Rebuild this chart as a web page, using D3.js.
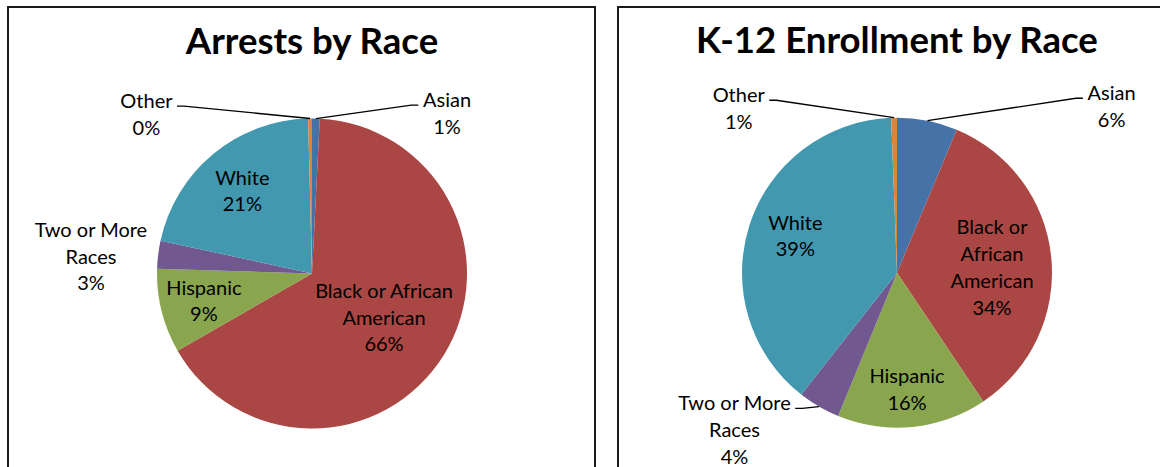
<!DOCTYPE html>
<html><head><meta charset="utf-8">
<script src="https://cdn.jsdelivr.net/npm/d3@7"></script>
<style>
html,body{margin:0;padding:0;background:#fff;}
svg{display:block;}
text{font-family:Lato,"Liberation Sans",sans-serif;fill:#000;}
</style></head><body>
<svg id="chart" width="1160" height="467"></svg>
<script>
// ---- data ----
const categories = ["Asian", "Black or African American", "Hispanic", "Two or More Races", "White", "Other"];
const arrestsValues = [0.8, 65.9, 8.8, 2.9, 21.2, 0.4];
const enrollmentValues = [6.3, 34.3, 15.6, 4.4, 38.8, 0.6];
const chartTitles = ["Arrests by Race", "K-12 Enrollment by Race"];
const sliceColors = ["#4572A7", "#AA4643", "#89A54E", "#71588F", "#4198AF", "#DB843D"];

// ---- layout ----
const labelFont = 20, lineH = 26.7, titleFont = 36.6;
const panels = [
  { title: chartTitles[0], values: arrestsValues, box: [8, 7, 587, 520], cx: 312, cy: 273.5, r: 155, titleY: 54.3,
    labels: [
      { a: 40.2, k: 1.35, leader: true },
      { a: 121.7, k: 0.546, wrap: 165 },
      { a: 255.6, k: 0.72 },
      { a: 274.3, k: 1.43, wrap: 128 },
      { a: 319.7, k: 0.695 },
      { a: 313.8, k: 1.48, leader: true }
    ] },
  { title: chartTitles[1], values: enrollmentValues, box: [618, 7, 600, 520], cx: 897, cy: 272.7, r: 155, titleY: 52.7,
    labels: [
      { a: 52.3, k: 1.75, leader: true },
      { a: 87, k: 0.614, wrap: 95 },
      { a: 175.1, k: 0.758 },
      { a: 225.9, k: 1.46, leader: true, wrap: 128 },
      { a: 289.8, k: 0.697 },
      { a: 316, k: 1.47, leader: true }
    ] }
];

const svg = d3.select("#chart");
const pie = d3.pie().sort(null).value(d => d.value).startAngle(0).endAngle(2 * Math.PI);
const color = d3.scaleOrdinal().domain(categories).range(sliceColors);
const toRad = d3.scaleLinear().domain([0, 360]).range([0, 2 * Math.PI]);

function wrapText(str, maxW, measurer) {
  const words = str.split(" ");
  const lines = [];
  let cur = "";
  words.forEach(w => {
    const test = cur ? cur + " " + w : w;
    measurer.text(test);
    if (cur && measurer.node().getComputedTextLength() > maxW) { lines.push(cur); cur = w; }
    else cur = test;
  });
  if (cur) lines.push(cur);
  return lines;
}

const measurer = svg.append("text").attr("font-size", labelFont).attr("visibility", "hidden");

panels.forEach(p => {
  const g = svg.append("g");
  g.append("rect").attr("x", p.box[0]).attr("y", p.box[1]).attr("width", p.box[2]).attr("height", p.box[3])
    .attr("fill", "#fff").attr("stroke", "#1a1a1a").attr("stroke-width", 2);

  g.append("text").attr("x", p.cx).attr("y", p.titleY).attr("text-anchor", "middle")
    .attr("font-size", titleFont).attr("font-weight", "bold").text(p.title);

  const data = categories.map((c, i) => ({ cat: c, value: p.values[i] }));
  const arcs = pie(data);
  const arc = d3.arc().innerRadius(0).outerRadius(p.r);

  const pg = g.append("g").attr("transform", `translate(${p.cx},${p.cy})`);
  pg.selectAll("path").data(arcs).join("path").attr("d", arc).attr("fill", d => color(d.data.cat));

  arcs.forEach((d, i) => {
    const L = p.labels[i];
    const ang = toRad(L.a);
    const R = p.r * L.k;
    const lx = p.cx + R * Math.sin(ang), ly = p.cy - R * Math.cos(ang);
    const lines = L.wrap ? wrapText(d.data.cat, L.wrap, measurer) : [d.data.cat];
    lines.push(Math.round(d.data.value) + "%");
    const n = lines.length;
    const t = g.append("text").attr("text-anchor", "middle").attr("font-size", labelFont);
    let maxW = 0;
    lines.forEach((s, j) => {
      const ts = t.append("tspan").attr("x", lx).attr("y", ly + (j - (n - 1) / 2) * lineH + 6.8).text(s);
      maxW = Math.max(maxW, ts.node().getComputedTextLength());
    });
    if (L.leader) {
      const mid = (d.startAngle + d.endAngle) / 2;
      const sx = p.cx + p.r * Math.sin(mid), sy = p.cy - p.r * Math.cos(mid);
      const yL = ly - (n - 1) / 2 * lineH + 6.8 - 2;
      const right = lx > p.cx;
      const ex = right ? lx - maxW / 2 - 4.7 : lx + maxW / 2 + 4.5;
      const kx = right ? ex - 7 : ex + 7;
      g.append("path").attr("d", d3.line()([[sx, sy], [kx, yL], [ex, yL]]))
        .attr("fill", "none").attr("stroke", "#000").attr("stroke-width", 1.3);
    }
  });
});
measurer.remove();
</script>
</body></html>
